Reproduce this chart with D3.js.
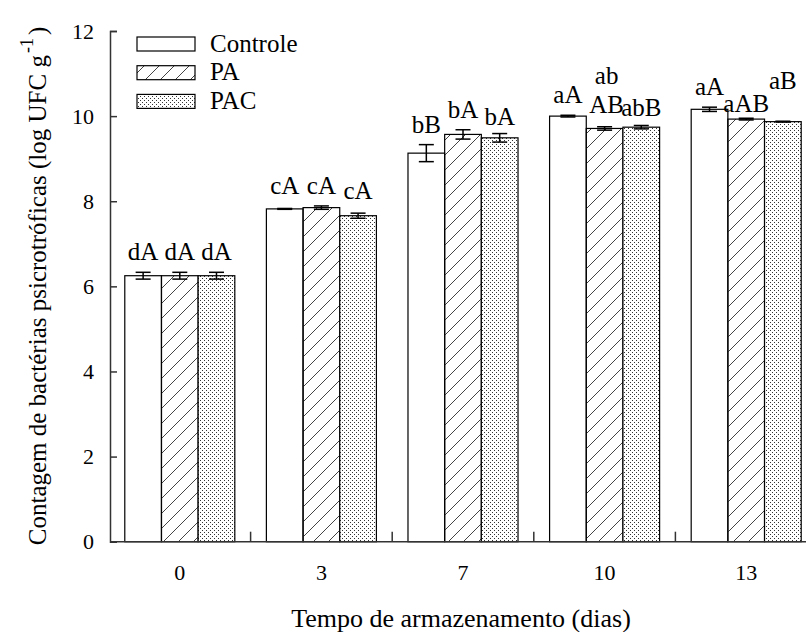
<!DOCTYPE html>
<html>
<head>
<meta charset="utf-8">
<script src="https://cdn.jsdelivr.net/npm/d3@7"></script>
<style>
  body { margin: 0; background: #fff; }
  svg text { font-family: "Liberation Serif", "Tinos", "DejaVu Serif", serif !important; fill: #000; }
</style>
</head>
<body>
<figure id="bar" style="margin:0"></figure>
<script>
const DAYS = ["0", "3", "7", "10", "13"];
const SERIES = ["Controle", "PA", "PAC"];
const Y_TICKS = [0, 2, 4, 6, 8, 10, 12];

// mean counts (log UFC/g) per day
const CONTROLE = [6.25, 7.82, 9.13, 10.00, 10.16];
const PA       = [6.25, 7.85, 9.57, 9.71, 9.93];
const PAC      = [6.25, 7.66, 9.49, 9.74, 9.87];

// error bar half lengths
const CONTROLE_ERR = [0.08, 0.01, 0.20, 0.02, 0.05];
const PA_ERR       = [0.08, 0.04, 0.11, 0.04, 0.02];
const PAC_ERR      = [0.08, 0.06, 0.10, 0.04, 0.01];

// significance letters
const CONTROLE_LBL = ["dA", "cA", "bB", "aA", "aA"];
const PA_LBL       = ["dA", "cA", "bA", "ab\nAB", "aAB"];
const PAC_LBL      = ["dA", "cA", "bA", "abB", "aB"];

const width = 806, height = 632;
const FONT = "'Liberation Serif', Tinos, 'DejaVu Serif', serif";
const labelGap = 12;
// hand placement of a few letters (px, per series then day)
const LABEL_NUDGE = [
  [0, -2, 0, 0, 0],
  [0, 0, 0, -2, 6],
  [0, -2, 3, 3, -20]
];

const values = [CONTROLE, PA, PAC];
const errors = [CONTROLE_ERR, PA_ERR, PAC_ERR];
const letters = [CONTROLE_LBL, PA_LBL, PAC_LBL];

const data = [];
DAYS.forEach((day, i) => {
  SERIES.forEach((s, j) => {
    data.push({day: day, series: s, si: j, di: i, value: values[j][i], err: errors[j][i], label: letters[j][i]});
  });
});

const svg = d3.select("figure#bar")
  .append("svg")
  .attr("width", width)
  .attr("height", height)
  .attr("font-family", FONT);

const defs = svg.append("defs");
const hatch = defs.append("pattern")
  .attr("id", "hatch")
  .attr("patternUnits", "userSpaceOnUse")
  .attr("width", 15).attr("height", 15);
hatch.append("path")
  .attr("d", "M0,15 L15,0 M-4,4 L4,-4 M11,19 L19,11")
  .attr("stroke", "#444").attr("stroke-width", 1);

const dots = defs.append("pattern")
  .attr("id", "dots")
  .attr("patternUnits", "userSpaceOnUse")
  .attr("width", 4).attr("height", 4);
dots.append("rect").attr("width", 4).attr("height", 4).attr("fill", "#fff");
dots.append("rect").attr("x", 0).attr("y", 0).attr("width", 1).attr("height", 1).attr("fill", "#333");
dots.append("rect").attr("x", 2).attr("y", 2).attr("width", 1).attr("height", 1).attr("fill", "#333");

const fills = ["#fff", "url(#hatch)", "url(#dots)"];

// scales
const x = d3.scaleBand()
  .domain(DAYS)
  .range([109, 817])
  .paddingInner(0.223)
  .paddingOuter(0.1115);

const xs = d3.scaleBand()
  .domain(SERIES)
  .range([0, x.bandwidth()]);

const y = d3.scaleLinear()
  .domain([0, 12])
  .range([541.7, 31]);

const axisX0 = 110;

// bars
svg.append("g").selectAll("rect")
  .data(data)
  .enter()
  .append("rect")
  .attr("x", d => x(d.day) + xs(d.series))
  .attr("y", d => y(d.value))
  .attr("width", xs.bandwidth())
  .attr("height", d => y(0) - y(d.value))
  .attr("fill", d => fills[d.si])
  .attr("stroke", "#000")
  .attr("stroke-width", 1.2);

// error bars
const capW = 7.5;
const eb = svg.append("g").attr("stroke", "#000").attr("stroke-width", 1.5);
data.forEach(d => {
  const cx = x(d.day) + xs(d.series) + xs.bandwidth() / 2;
  const top = y(d.value + d.err), bot = y(d.value - d.err);
  eb.append("line").attr("x1", cx).attr("x2", cx).attr("y1", top).attr("y2", bot);
  eb.append("line").attr("x1", cx - capW).attr("x2", cx + capW).attr("y1", top).attr("y2", top);
  eb.append("line").attr("x1", cx - capW).attr("x2", cx + capW).attr("y1", bot).attr("y2", bot);
});

// letters
const lbl = svg.append("g").attr("font-size", 25).attr("text-anchor", "middle");
data.forEach(d => {
  const cx = x(d.day) + xs(d.series) + xs.bandwidth() / 2;
  const base = y(d.value + d.err) - labelGap + LABEL_NUDGE[d.si][d.di];
  const lines = d.label.split("\n");
  lines.forEach((t, k) => {
    lbl.append("text")
      .attr("x", cx + (lines.length > 1 ? 2 : 0))
      .attr("y", base - (lines.length - 1 - k) * 29)
      .text(t);
  });
});

// y axis
const yAxis = svg.append("g")
  .attr("transform", "translate(" + axisX0 + ",0)")
  .call(d3.axisLeft(y).tickValues(Y_TICKS).tickSize(-7).tickPadding(16).tickFormat(d3.format("d")));
yAxis.attr("font-family", FONT);
yAxis.select(".domain").attr("stroke", "#333").attr("stroke-width", 1.5);
yAxis.selectAll(".tick line").attr("stroke", "#333").attr("stroke-width", 1.5);
yAxis.selectAll("text").attr("font-size", 22).attr("fill", "#000");

// x axis
const xAxis = svg.append("g")
  .attr("transform", "translate(0," + y(0) + ")")
  .call(d3.axisBottom(x).tickSize(0).tickPadding(23));
xAxis.attr("font-family", FONT);
xAxis.select(".domain").attr("d", "M" + axisX0 + ",0H" + width).attr("stroke", "#333").attr("stroke-width", 1.5);
xAxis.selectAll("text").attr("font-size", 22).attr("fill", "#000");

// group separators on the x axis
const gap = x.step() * x.paddingInner();
svg.append("g").selectAll("line")
  .data(DAYS.slice(1))
  .enter()
  .append("line")
  .attr("x1", d => x(d) - gap / 2)
  .attr("x2", d => x(d) - gap / 2)
  .attr("y1", y(0))
  .attr("y2", y(0) - 10)
  .attr("stroke", "#333")
  .attr("stroke-width", 1.5);

// axis titles
svg.append("text")
  .attr("x", 461)
  .attr("y", 627)
  .attr("text-anchor", "middle")
  .attr("font-size", 26)
  .text("Tempo de armazenamento (dias)");

const yt = svg.append("text")
  .attr("transform", "translate(46,286) rotate(-90)")
  .attr("text-anchor", "middle")
  .attr("font-size", 25);
yt.append("tspan").text("Contagem de bactérias psicrotróficas (log UFC g");
yt.append("tspan").attr("font-size", 18).attr("dy", -13).attr("dx", 2).text("-1");
yt.append("tspan").attr("dy", 13).attr("dx", 3).text(")");

// legend
const legend = svg.append("g");
SERIES.forEach((s, j) => {
  const ly = 37 + j * 28.7;
  legend.append("rect")
    .attr("x", 137).attr("y", ly)
    .attr("width", 58).attr("height", 14)
    .attr("fill", fills[j])
    .attr("stroke", "#000")
    .attr("stroke-width", 1.2);
  legend.append("text")
    .attr("x", 210).attr("y", ly + 14.5)
    .attr("font-size", 25)
    .text(s);
});
</script>
</body>
</html>
